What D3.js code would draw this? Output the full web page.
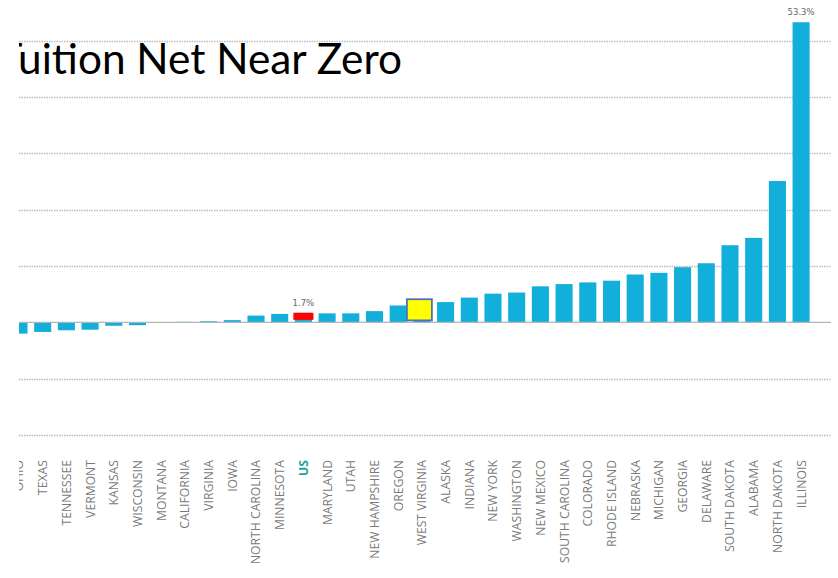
<!DOCTYPE html>
<html>
<head>
<meta charset="utf-8">
<script src="https://cdn.jsdelivr.net/npm/d3@7"></script>
<style>
  html, body { margin: 0; padding: 0; background: #fff; }
  svg { display: block; }
</style>
</head>
<body>
<script>
// Year-over-year change in net tuition revenue by state, sorted ascending (percent)
const states = [
  "OHIO", "TEXAS", "TENNESSEE", "VERMONT", "KANSAS", "WISCONSIN", "MONTANA",
  "CALIFORNIA", "VIRGINIA", "IOWA", "NORTH CAROLINA", "MINNESOTA", "US",
  "MARYLAND", "UTAH", "NEW HAMPSHIRE", "OREGON", "WEST VIRGINIA", "ALASKA",
  "INDIANA", "NEW YORK", "WASHINGTON", "NEW MEXICO", "SOUTH CAROLINA",
  "COLORADO", "RHODE ISLAND", "NEBRASKA", "MICHIGAN", "GEORGIA", "DELAWARE",
  "SOUTH DAKOTA", "ALABAMA", "NORTH DAKOTA", "ILLINOIS"
];
const changePct = [
  -2.0, -1.7, -1.4, -1.3, -0.6, -0.5, 0.0,
  0.1, 0.2, 0.4, 1.2, 1.5, 1.7,
  1.6, 1.6, 2.0, 3.0, 3.4, 3.6,
  4.4, 5.1, 5.3, 6.4, 6.8,
  7.1, 7.4, 8.5, 8.8, 9.8, 10.5,
  13.7, 15.0, 25.1, 53.3
];
const gridTicks = [-20, -10, 10, 20, 30, 40, 50];
const valueLabels = [
  { state: "US", text: "1.7%" },
  { state: "ILLINOIS", text: "53.3%" }
];
const nationalState = "US";
const highlightState = "WEST VIRGINIA";
const titleText = "Tuition Net Near Zero";

const W = 838, H = 578;
const data = states.map((s, i) => ({ state: s, value: changePct[i] }));

const svg = d3.select("body").append("svg")
  .attr("width", W).attr("height", H);

// visible frame starts a little in from the left edge
const frameLeft = 19, frameRight = 831;
svg.append("defs").append("clipPath").attr("id", "frame")
  .append("rect").attr("x", frameLeft).attr("y", 0)
  .attr("width", W - frameLeft).attr("height", H);

const root = svg.append("g").attr("clip-path", "url(#frame)");

const x = d3.scaleBand()
  .domain(states)
  .range([7.15, 7.15 + 34 * 23.7])
  .paddingInner(0.28)
  .paddingOuter(0.14);

const y = d3.scaleLinear().domain([-20, 50]).range([435, 40.8]);

// dotted gridlines
root.append("g").selectAll("line")
  .data(gridTicks)
  .join("line")
  .attr("x1", frameLeft).attr("x2", frameRight)
  .attr("y1", d => Math.round(y(d)) + 0.5)
  .attr("y2", d => Math.round(y(d)) + 0.5)
  .attr("stroke", "#bdbdbd")
  .attr("stroke-width", 1.3)
  .attr("stroke-dasharray", "1.5,1");

// title
const probe = root.append("text")
  .attr("font-family", "Lato, 'Open Sans', sans-serif")
  .attr("font-size", 40)
  .text(titleText.slice(1));
const probeW = probe.node().getComputedTextLength();
probe.remove();
const titleSize = 40 * 384 / probeW;
root.append("text")
  .attr("x", 402).attr("y", 74)
  .attr("text-anchor", "end")
  .attr("font-family", "Lato, 'Open Sans', sans-serif")
  .attr("font-size", titleSize)
  .attr("fill", "#000")
  .text(titleText);

// bars
root.append("g").selectAll("rect")
  .data(data)
  .join("rect")
  .attr("x", d => x(d.state))
  .attr("width", x.bandwidth())
  .attr("y", d => y(Math.max(0, d.value)))
  .attr("height", d => Math.abs(y(d.value) - y(0)))
  .attr("fill", "#13afdb");

// zero baseline
root.append("line")
  .attr("x1", frameLeft).attr("x2", frameRight)
  .attr("y1", y(0)).attr("y2", y(0))
  .attr("stroke", "#b5b5b5").attr("stroke-width", 1.3);

// national average marker
const us = data.find(d => d.state === nationalState);
root.append("rect")
  .attr("x", x(us.state) - 1.5)
  .attr("width", x.bandwidth() + 3)
  .attr("y", y(us.value))
  .attr("height", y(0) - 2.5 - y(us.value))
  .attr("fill", "#ff0000");

// highlighted state box
const hl = data.find(d => d.state === highlightState);
const hlW = 25;
root.append("rect")
  .attr("x", x(hl.state) + x.bandwidth() / 2 - hlW / 2 - 2.5)
  .attr("width", hlW)
  .attr("y", y(hl.value) - 4)
  .attr("height", y(0) - 2 - (y(hl.value) - 4))
  .attr("fill", "#ffff00")
  .attr("stroke", "#4a72c0")
  .attr("stroke-width", 1.8);

// value labels
root.append("g").selectAll("text")
  .data(valueLabels)
  .join("text")
  .attr("x", d => x(d.state) + x.bandwidth() / 2)
  .attr("y", d => y(changePct[states.indexOf(d.state)]) - 7)
  .attr("text-anchor", "middle")
  .attr("font-family", "'DejaVu Sans', sans-serif")
  .attr("font-size", 8.5)
  .attr("fill", "#666")
  .text(d => d.text);

// category labels, rotated
root.append("g").selectAll("text")
  .data(states)
  .join("text")
  .attr("transform", d => `translate(${x(d) + x.bandwidth() / 2},460) rotate(-90)`)
  .attr("dy", "0.36em")
  .attr("text-anchor", "end")
  .attr("font-family", "'Open Sans', sans-serif")
  .attr("font-size", 12.2)
  .attr("font-weight", d => d === nationalState ? 700 : 400)
  .attr("fill", d => d === nationalState ? "#1fa3a0" : "#7a7a7a")
  .text(d => d);
</script>
</body>
</html>
